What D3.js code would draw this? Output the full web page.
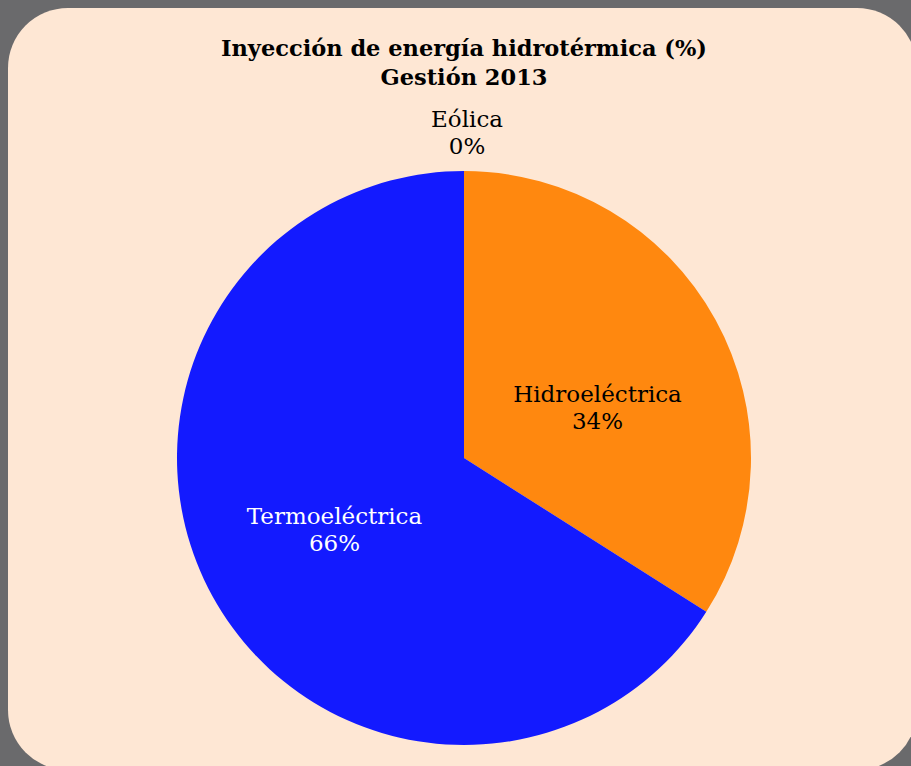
<!DOCTYPE html>
<html>
<head>
<meta charset="utf-8">
<script src="https://cdn.jsdelivr.net/npm/d3@7"></script>
<style>
  html, body { margin: 0; padding: 0; background: #6a6a6c; }
  svg { display: block; }
</style>
</head>
<body>
<div id="chart"></div>
<script>
// chart values
const titleLines = ['Inyección de energía hidrotérmica (%)', 'Gestión 2013'];
const categories = ['Hidroeléctrica', 'Termoeléctrica', 'Eólica'];
const values = [34, 66, 0];
const colors = ['#ff880f', '#131aff', '#2ca02c'];
const labelColors = ['#000', '#fff', '#000'];

const W = 911, H = 766;
const cx = 464, cy = 458, radius = 287;

const svg = d3.select('#chart').append('svg')
  .attr('width', W)
  .attr('height', H);

// panel background
svg.append('rect')
  .attr('x', 8).attr('y', 8)
  .attr('width', 909).attr('height', 762)
  .attr('rx', 60).attr('ry', 60)
  .attr('fill', '#fee7d4');

// title
svg.append('g').selectAll('text')
  .data(titleLines)
  .join('text')
  .attr('x', 464)
  .attr('y', (d, i) => 56 + i * 29)
  .attr('text-anchor', 'middle')
  .style('font-family', '"DejaVu Serif", serif')
  .style('font-weight', 'bold')
  .style('font-size', '22.5px')
  .style('fill', '#000')
  .text(d => d);

const data = categories.map((c, i) => ({ name: c, value: values[i], color: colors[i], lc: labelColors[i] }));

const pie = d3.pie().sort(null).value(d => d.value);
const arcs = pie(data);

const arc = d3.arc().innerRadius(0).outerRadius(radius);
const labelArc = d3.arc().innerRadius(radius * 0.515).outerRadius(radius * 0.515);

const g = svg.append('g').attr('transform', `translate(${cx},${cy})`);

g.selectAll('path')
  .data(arcs.filter(d => d.value > 0))
  .join('path')
  .attr('d', arc)
  .attr('fill', d => d.data.color);

// labels: zero slices go outside the pie, just above the rim
const lbl = g.selectAll('.lbl')
  .data(arcs)
  .join('text')
  .attr('class', 'lbl')
  .attr('text-anchor', 'middle')
  .style('font-family', '"DejaVu Serif", serif')
  .style('font-size', '23px')
  .style('fill', d => d.value > 0 ? d.data.lc : '#000')
  .attr('transform', (d, i) => {
    if (d.value > 0) {
      const [x, y] = labelArc.centroid(d);
      // first slice label sits a bit lower in the original
      return `translate(${x + (i === 0 ? 4 : 0)},${y - 5 + (i === 0 ? 20 : 0)})`;
    }
    const a = d.startAngle;
    const r = radius + 44;
    return `translate(${Math.sin(a) * r + 3},${-Math.cos(a) * r})`;
  });

lbl.append('tspan')
  .attr('x', 0).attr('dy', 0)
  .text(d => d.data.name);
lbl.append('tspan')
  .attr('x', 0).attr('dy', 27)
  .text(d => d3.format('.0f')(d.value / d3.sum(values) * 100) + '%');
</script>
</body>
</html>
